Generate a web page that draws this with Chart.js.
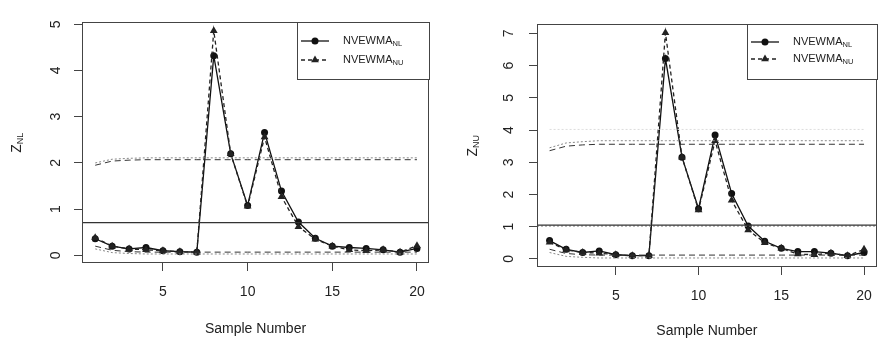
<!DOCTYPE html>
<html>
<head>
<meta charset="utf-8">
<script src="https://cdn.jsdelivr.net/npm/chart.js@4.4.0/dist/chart.umd.min.js"></script>
<style>
	html, body { margin: 0; padding: 0; background: #fff; width: 878px; height: 344px; overflow: hidden; }
	.panel { position: absolute; top: 0; }
	#panel-nl { left: 0; }
	#panel-nu { left: 440px; }
</style>
</head>
<body>
<div class="panel" id="panel-nl"><canvas id="chart-nl" width="440" height="344"></canvas></div>
<div class="panel" id="panel-nu"><canvas id="chart-nu" width="445" height="344"></canvas></div>
<script>
// **DATA**
const samples = [1, 2, 3, 4, 5, 6, 7, 8, 9, 10, 11, 12, 13, 14, 15, 16, 17, 18, 19, 20];
const xTickValues = [5, 10, 15, 20];
const yTicksNL = [0, 1, 2, 3, 4, 5];
const yTicksNU = [0, 1, 2, 3, 4, 5, 6, 7];
const legendLabels = ['NVEWMA', 'NVEWMA'];
const legendSubs = ['NL', 'NU'];
const xAxisTitle = 'Sample Number';

// left panel (Z_NL)
const leftCircles = [0.36, 0.2, 0.14, 0.17, 0.1, 0.08, 0.07, 4.32, 2.2, 1.08, 2.66, 1.39, 0.72, 0.37, 0.2, 0.17, 0.15, 0.12, 0.07, 0.15];
const leftTriangles = [0.38, 0.2, 0.14, 0.12, 0.1, 0.08, 0.07, 4.86, 2.2, 1.06, 2.56, 1.27, 0.62, 0.35, 0.2, 0.12, 0.1, 0.12, 0.07, 0.21];
const leftUclDashed = [1.95, 2.04, 2.06, 2.07, 2.07, 2.07, 2.07, 2.07, 2.07, 2.07, 2.07, 2.07, 2.07, 2.07, 2.07, 2.07, 2.07, 2.07, 2.07, 2.07];
const leftUclDotted = [2.0, 2.08, 2.1, 2.11, 2.11, 2.11, 2.11, 2.11, 2.11, 2.11, 2.11, 2.11, 2.11, 2.11, 2.11, 2.11, 2.11, 2.11, 2.11, 2.11];
const leftLclDashed = [0.2, 0.11, 0.08, 0.07, 0.07, 0.07, 0.07, 0.07, 0.07, 0.07, 0.07, 0.07, 0.07, 0.07, 0.07, 0.07, 0.07, 0.07, 0.07, 0.07];
const leftLclDotted = [0.14, 0.06, 0.04, 0.03, 0.03, 0.03, 0.03, 0.03, 0.03, 0.03, 0.03, 0.03, 0.03, 0.03, 0.03, 0.03, 0.03, 0.03, 0.03, 0.03];
const leftCenter = 0.71;

// right panel (Z_NU)
const rightCircles = [0.57, 0.3, 0.2, 0.25, 0.13, 0.1, 0.1, 6.22, 3.16, 1.56, 3.85, 2.03, 1.02, 0.55, 0.33, 0.23, 0.23, 0.18, 0.1, 0.2];
const rightTriangles = [0.52, 0.28, 0.2, 0.18, 0.13, 0.1, 0.1, 7.02, 3.16, 1.52, 3.67, 1.82, 0.9, 0.5, 0.33, 0.15, 0.13, 0.18, 0.1, 0.3];
const rightUclDashed = [3.36, 3.5, 3.54, 3.56, 3.56, 3.56, 3.56, 3.56, 3.56, 3.56, 3.56, 3.56, 3.56, 3.56, 3.56, 3.56, 3.56, 3.56, 3.56, 3.56];
const rightUclDotted = [3.45, 3.6, 3.64, 3.67, 3.67, 3.67, 3.67, 3.67, 3.67, 3.67, 3.67, 3.67, 3.67, 3.67, 3.67, 3.67, 3.67, 3.67, 3.67, 3.67];
const rightUclFaint = [4.02, 4.02, 4.02, 4.02, 4.02, 4.02, 4.02, 4.02, 4.02, 4.02, 4.02, 4.02, 4.02, 4.02, 4.02, 4.02, 4.02, 4.02, 4.02, 4.02];
const rightLclDashed = [0.3, 0.17, 0.13, 0.12, 0.12, 0.12, 0.12, 0.12, 0.12, 0.12, 0.12, 0.12, 0.12, 0.12, 0.12, 0.12, 0.12, 0.12, 0.12, 0.12];
const rightLclDotted = [0.2, 0.08, 0.05, 0.03, 0.03, 0.03, 0.03, 0.03, 0.03, 0.03, 0.03, 0.03, 0.03, 0.03, 0.03, 0.03, 0.03, 0.03, 0.03, 0.03];
const rightCenter = 1.05;
const rightCenterDashed = 1.02;

// **STYLE**
const FONT = '"Liberation Sans", Arial, Helvetica, sans-serif';
const TEXT = '#222';
const FRAME = '#444';
const circleStyle = { color: '#111', width: 1.3, dash: [], point: 'circle', radius: 3.5 };
const triangleStyle = { color: '#222', width: 1.3, dash: [4, 3], point: 'triangle', radius: 4.5 };
const dashedLimit = { color: '#333', width: 1, dash: [6, 4] };
const dottedLimit = { color: '#888', width: 1, dash: [2, 2] };
const faintLimit = { color: '#dcdcdc', width: 1, dash: [2, 2] };
const solidLimit = { color: '#333', width: 1.3, dash: [] };

// **UTILITIES**
/**
 * Pairs each sample number with its value.
 * @param {number[]} values - One value per sample.
 * @returns {Object[]} - Points for Chart.js.
 */
function toPoints(values) {
	return samples.map((x, i) => ({ x, y: values[i] }));
}

/**
 * Builds a line dataset with optional markers.
 * @param {Object[]} data - Points.
 * @param {Object} style - Line and marker style.
 * @returns {Object} - Dataset.
 */
function lineDataset(data, style) {
	return {
		data,
		borderColor: style.color,
		borderWidth: style.width,
		borderDash: style.dash,
		pointStyle: style.point || 'circle',
		pointRadius: style.radius || 0,
		pointBackgroundColor: style.color,
		pointBorderWidth: 0,
	};
}

/**
 * Horizontal line across the whole x range.
 * @param {number} value - Level.
 * @param {Object} panel - Panel settings.
 * @returns {Object[]} - Two points.
 */
function levelPoints(value, panel) {
	return [{ x: panel.xMin, y: value }, { x: panel.xMax, y: value }];
}

// **DRAWING**
/**
 * Draws the rotated y title with its subscript.
 */
function drawYTitle(ctx, area, panel) {
	ctx.save();
	ctx.translate(panel.titleX, (area.top + area.bottom) / 2);
	ctx.rotate(-Math.PI / 2);
	ctx.fillStyle = TEXT;
	ctx.textBaseline = 'middle';
	ctx.textAlign = 'left';
	ctx.font = `14px ${FONT}`;
	const wMain = ctx.measureText('Z').width;
	ctx.font = `9px ${FONT}`;
	const wSub = ctx.measureText(panel.titleSub).width;
	const start = -(wMain + wSub) / 2;
	ctx.font = `14px ${FONT}`;
	ctx.fillText('Z', start, 0);
	ctx.font = `9px ${FONT}`;
	ctx.fillText(panel.titleSub, start + wMain, 4);
	ctx.restore();
}

/**
 * Draws the R style legend in the top right corner.
 */
function drawLegend(ctx, area, panel) {
	const box = panel.legend;
	const left = Math.round(area.right - box.width);
	const top = Math.round(area.top);
	const styles = [circleStyle, triangleStyle];

	ctx.save();
	ctx.fillStyle = '#fff';
	ctx.fillRect(left, top, box.width, box.height);
	ctx.strokeStyle = FRAME;
	ctx.lineWidth = 1;
	ctx.strokeRect(left + 0.5, top + 0.5, box.width, box.height);

	legendLabels.forEach((label, i) => {
		const style = styles[i];
		const y = top + box.rows[i];
		ctx.strokeStyle = style.color;
		ctx.lineWidth = style.width;
		ctx.setLineDash(style.dash);
		ctx.beginPath();
		ctx.moveTo(left + 4, y);
		ctx.lineTo(left + 32, y);
		ctx.stroke();
		ctx.setLineDash([]);
		ctx.fillStyle = style.color;
		Chart.helpers.drawPoint(ctx, { pointStyle: style.point, radius: style.radius, rotation: 0, borderWidth: 0 }, left + 18, y);

		ctx.fillStyle = TEXT;
		ctx.textBaseline = 'middle';
		ctx.textAlign = 'left';
		ctx.font = `11px ${FONT}`;
		ctx.fillText(label, left + 46, y);
		const w = ctx.measureText(label).width;
		ctx.font = `7.5px ${FONT}`;
		ctx.fillText(legendSubs[i], left + 46 + w, y + 3);
	});
	ctx.restore();
}

/**
 * Plugin with the frame, the legend and the y title.
 */
function panelDecorations(panel) {
	return {
		id: 'decor',
		afterDatasetsDraw(chart) {
			const { ctx, chartArea: a } = chart;
			ctx.save();
			ctx.strokeStyle = FRAME;
			ctx.lineWidth = 1;
			ctx.strokeRect(Math.round(a.left) + 0.5, Math.round(a.top) + 0.5,
				Math.round(a.right - a.left) - 1, Math.round(a.bottom - a.top) - 1);
			ctx.restore();
			drawLegend(ctx, a, panel);
			drawYTitle(ctx, a, panel);
		},
	};
}

// **CHARTS**
/**
 * Creates one control chart panel.
 * @param {Object} panel - Data and layout of the panel.
 */
function createPanel(panel) {
	const datasets = [
		...panel.limits.map(l => lineDataset(toPoints(l.values), l.style)),
		lineDataset(levelPoints(panel.center, panel), solidLimit),
		...(panel.centerDashed !== undefined ? [lineDataset(levelPoints(panel.centerDashed, panel), dottedLimit)] : []),
		lineDataset(toPoints(panel.triangles), triangleStyle),
		lineDataset(toPoints(panel.circles), circleStyle),
	];
	const tickFont = { family: FONT, size: 14 };

	new Chart(document.getElementById(panel.canvas), {
		type: 'line',
		data: { datasets },
		options: {
			responsive: false,
			animation: false,
			layout: { padding: panel.padding },
			elements: { line: { tension: 0 } },
			plugins: { legend: { display: false }, tooltip: { enabled: false } },
			scales: {
				x: {
					type: 'linear',
					min: panel.xMin,
					max: panel.xMax,
					afterBuildTicks: s => { s.ticks = xTickValues.map(v => ({ value: v })); },
					afterFit: s => { s.height = panel.xAxisHeight; },
					border: { display: false },
					grid: { drawOnChartArea: false, drawTicks: true, tickLength: 8, color: FRAME, lineWidth: 1 },
					ticks: { font: tickFont, color: TEXT, padding: 13, maxRotation: 0, autoSkip: false },
					title: { display: true, text: xAxisTitle, font: tickFont, color: TEXT, padding: { top: 0, bottom: panel.titlePad } },
				},
				y: {
					type: 'linear',
					min: panel.yMin,
					max: panel.yMax,
					afterBuildTicks: s => { s.ticks = panel.yTicks.map(v => ({ value: v })); },
					// R draws the y labels parallel to the axis
					afterCalculateLabelRotation: s => { s.labelRotation = 90; },
					afterFit: s => { s.width = panel.yAxisWidth; },
					border: { display: false },
					grid: { drawOnChartArea: false, drawTicks: true, tickLength: 8, color: FRAME, lineWidth: 1 },
					ticks: { font: tickFont, color: TEXT, padding: panel.yTickPad, minRotation: 90, maxRotation: 90, crossAlign: 'center' },
				},
			},
		},
		plugins: [panelDecorations(panel)],
	});
}

/**
 * Sets up both panels.
 */
function init() {
	createPanel({
		canvas: 'chart-nl',
		circles: leftCircles,
		triangles: leftTriangles,
		limits: [
			{ values: leftUclDotted, style: dottedLimit },
			{ values: leftUclDashed, style: dashedLimit },
			{ values: leftLclDotted, style: dottedLimit },
			{ values: leftLclDashed, style: dashedLimit },
		],
		center: leftCenter,
		yTicks: yTicksNL,
		xMin: 0.22, xMax: 20.71,
		yMin: -0.165, yMax: 5.04,
		padding: { top: 10, right: 11, left: 0, bottom: 0 },
		xAxisHeight: 81,
		yAxisWidth: 82,
		yTickPad: 14,
		titlePad: 6,
		titleX: 17,
		titleSub: 'NL',
		legend: { width: 132, height: 57, rows: [19, 38] },
	});

	createPanel({
		canvas: 'chart-nu',
		circles: rightCircles,
		triangles: rightTriangles,
		limits: [
			{ values: rightUclFaint, style: faintLimit },
			{ values: rightUclDotted, style: dottedLimit },
			{ values: rightUclDashed, style: dashedLimit },
			{ values: rightLclDotted, style: dottedLimit },
			{ values: rightLclDashed, style: dashedLimit },
		],
		center: rightCenter,
		centerDashed: rightCenterDashed,
		yTicks: yTicksNU,
		xMin: 0.24, xMax: 20.77,
		yMin: -0.25, yMax: 7.28,
		padding: { top: 23, right: 3, left: 0, bottom: 0 },
		xAxisHeight: 77,
		yAxisWidth: 97,
		yTickPad: 16,
		titlePad: 4,
		titleX: 33,
		titleSub: 'NU',
		legend: { width: 130, height: 55, rows: [18, 35] },
	});
}

document.addEventListener('DOMContentLoaded', init);
</script>
</body>
</html>
